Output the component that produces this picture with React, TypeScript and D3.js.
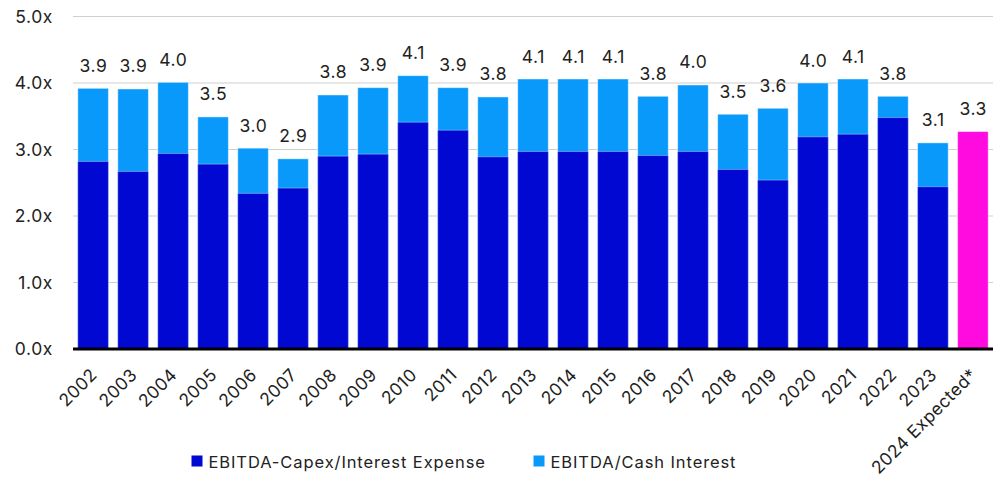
import React, { useEffect, useRef } from "react";
import * as d3 from "d3";

const categories = ["2002","2003","2004","2005","2006","2007","2008","2009","2010","2011","2012","2013","2014","2015","2016","2017","2018","2019","2020","2021","2022","2023","2024 Expected*"];
const capexInterest = [2.82,2.67,2.94,2.78,2.34,2.42,2.90,2.93,3.41,3.29,2.89,2.97,2.97,2.97,2.91,2.97,2.70,2.54,3.19,3.23,3.48,2.44,null];
const cashInterest = [3.92,3.91,4.01,3.49,3.02,2.86,3.82,3.93,4.11,3.93,3.79,4.06,4.06,4.06,3.80,3.97,3.53,3.62,4.00,4.06,3.80,3.10,3.27];
const yTicks = [0,1,2,3,4,5];
const seriesNames = ["EBITDA-Capex/Interest Expense","EBITDA/Cash Interest"];

const W = 999, H = 477;
const DARK = "#0008D2", LIGHT = "#0899FA", MAGENTA = "#FF0ADF";
const FONT = "Inter, 'Noto Sans', sans-serif";

export default function App() {
  const ref = useRef<SVGSVGElement>(null);
  useEffect(() => {
    const svg = d3.select(ref.current);
    svg.selectAll("*").remove();
    const left = 73, right = 993, top = 16.5, bottom = 349;
    const x = d3.scaleBand<string>().domain(categories).range([left, right]).paddingInner(0.235).paddingOuter(0.12);
    const y = d3.scaleLinear().domain([0, 5]).range([bottom, top]);

    const g = svg.append("g");
    g.selectAll("line.grid").data(yTicks.filter(t => t > 0)).enter().append("line")
      .attr("x1", left).attr("x2", right)
      .attr("y1", d => y(d)).attr("y2", d => y(d))
      .attr("stroke", "#cfcfcf").attr("stroke-width", 1);
    g.selectAll("text.ylab").data(yTicks).enter().append("text")
      .attr("x", 53).attr("y", d => y(d)).attr("dy", "0.36em")
      .attr("text-anchor", "end").attr("font-family", FONT).attr("font-size", 17.5)
      .attr("letter-spacing", 0.6)
      .attr("fill", "#222")
      .text(d => d.toFixed(1) + "x");

    const bw = x.bandwidth();
    g.selectAll("rect.total").data(categories).enter().append("rect")
      .attr("x", d => x(d)!).attr("width", bw)
      .attr("y", (d, i) => y(cashInterest[i]))
      .attr("height", (d, i) => bottom - y(cashInterest[i]))
      .attr("fill", (d, i) => capexInterest[i] == null ? MAGENTA : LIGHT)
      .attr("stroke", "rgba(255,255,255,0.45)").attr("stroke-width", 1);
    g.selectAll("rect.capex").data(categories.filter((d, i) => capexInterest[i] != null)).enter().append("rect")
      .attr("x", d => x(d)!).attr("width", bw)
      .attr("y", d => y(capexInterest[categories.indexOf(d)] as number))
      .attr("height", d => bottom - y(capexInterest[categories.indexOf(d)] as number))
      .attr("fill", DARK)
      .attr("stroke", "rgba(255,255,255,0.35)").attr("stroke-width", 1);
    g.selectAll("text.val").data(categories).enter().append("text")
      .attr("x", d => x(d)! + bw / 2 + 0.3)
      .attr("y", (d, i) => y(cashInterest[i]) - 16.5)
      .attr("text-anchor", "middle").attr("font-family", FONT).attr("font-size", 17.5)
      .attr("letter-spacing", 0.6)
      .attr("fill", "#222")
      .text((d, i) => cashInterest[i].toFixed(1));
    g.append("line").attr("x1", left).attr("x2", right).attr("y1", bottom).attr("y2", bottom)
      .attr("stroke", "#000").attr("stroke-width", 3);
    g.selectAll("text.xlab").data(categories).enter().append("text")
      .attr("transform", d => `translate(${x(d)! + bw / 2 + 5},${376}) rotate(-45)`)
      .attr("text-anchor", "end")
      .attr("font-family", FONT).attr("font-size", 17.5).attr("letter-spacing", 0.4).attr("fill", "#222")
      .text(d => d);
    const legX = [191.5, 533.5];
    const legC = [DARK, LIGHT];
    seriesNames.forEach((n, i) => {
      g.append("rect").attr("x", legX[i]).attr("y", 455.5).attr("width", 11).attr("height", 11).attr("fill", legC[i]);
      g.append("text").attr("x", legX[i] + 17).attr("y", 467.5).attr("font-family", FONT).attr("font-size", 16.5)
        .attr("letter-spacing", 0.9)
        .attr("fill", "#222").text(n);
    });
  }, []);
  return (
    <svg ref={ref} width={W} height={H} style={{ position: "absolute", left: 0, top: 0, background: "#fff" }} />
  );
}
